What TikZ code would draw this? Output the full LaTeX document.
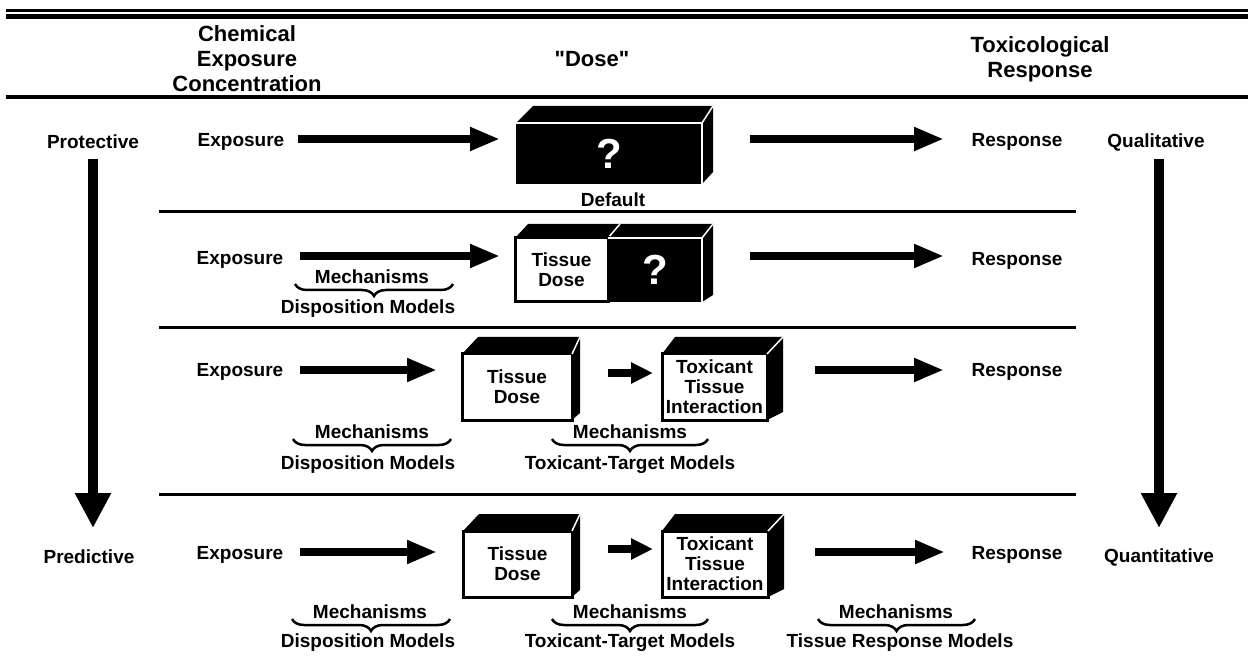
\documentclass[tikz,border=0pt]{standalone}
\usepackage{fontspec}
\setmainfont{Liberation Sans}[Ligatures=TeXOff]
\usetikzlibrary{arrows.meta,calc,decorations.pathreplacing}

% top and side faces of a box seen from above right:
% #1 front node, #2 left depth, #3 right depth, #4 rise of the top, #5 rise of the back bottom
\newcommand\boxfaces[5]{%
  \fill[black] (#1.north west) -- ++(#2,-#4) -- ($(#1.north east)+(#3,-#4)$) -- (#1.north east) -- cycle;
  \fill[black] (#1.north east) -- ++(#3,-#4) -- ($(#1.south east)+(#3,-#5)$) -- (#1.south east) -- cycle;
  \draw[white, line width=1.5] (#1.north east) -- ++(#3,-#4);
}

\begin{document}
\begin{tikzpicture}[x=1pt,y=-1pt,
  lbl/.style={font=\fontsize{19}{20}\selectfont\bfseries, inner sep=0, align=center},
  hdr/.style={font=\fontsize{22}{25}\selectfont\bfseries, inner sep=0, align=center},
  qmark/.style={font=\fontsize{42}{42}\selectfont\bfseries, text=white, inner sep=0},
  rule/.style={line width=3},
  bigarrow/.style={line width=8, -{Triangle[length=30pt,width=22pt]}},
  smallarrow/.style={line width=8, -{Triangle[length=22pt,width=20pt]}},
  trend/.style={line width=10, -{Triangle[length=35pt,width=34pt]}},
  frontW/.style={draw=black, line width=3, fill=white, outer sep=0, inner sep=0,
    minimum height=66, align=center, font=\fontsize{19}{20}\selectfont\bfseries},
  frontB/.style={fill=black, outer sep=0, inner sep=0},
  mbrace/.style={decorate, decoration={brace, mirror, amplitude=12}, line width=2.5},
]
\useasboundingbox (0,0) rectangle (1248,660);

% ---- header ----
\draw[line width=3] (6,11) -- (1248,11);
\draw[line width=5] (6,17) -- (1248,17);
\draw[line width=4] (6,97) -- (1248,97);
\node[hdr] (hChem) at (247,59) {Chemical\\Exposure\\Concentration};
\node[hdr] (hDose) at (592,59) {"Dose"};
\node[hdr] (hTox)  at (1040,59) {Toxicological\\Response};

% ---- row separators ----
\draw[rule] (159,212) -- (1076,212);
\draw[rule] (159,328) -- (1076,328);
\draw[rule] (159,494) -- (1076,494);

% ---- trend arrows at the sides ----
\node[lbl] (prot) at (93,142) {Protective};
\node[lbl] (pred) at (89,557) {Predictive};
\node[lbl] (qual) at (1156,142) {Qualitative};
\node[lbl] (quan) at (1159,557) {Quantitative};
\coordinate (pTop) at (93,159);   \coordinate (pTip) at (93,528);
\coordinate (qTop) at (1159,159); \coordinate (qTip) at (1159,528);
\draw[trend] (pTop) -- (pTip);
\draw[trend] (qTop) -- (qTip);

% ---- row 1: default ----
\node[lbl] (exp1) at (241,142) {Exposure};
\node[frontB, minimum width=186, minimum height=61] (box1) at (609,153.5) {};
\boxfaces{box1}{17}{11}{17}{12}
\draw[white, line width=1.5] (box1.north west) -- (box1.north east) -- (box1.south east);
\node[qmark] (q1) at (box1.center) {?};
\node[lbl] (def) at (613,200) {Default};
\node[lbl] (res1) at (1017,142) {Response};
\coordinate (a1s) at (298,139); \coordinate (a1e) at (500,139);
\coordinate (b1s) at (750,139); \coordinate (b1e) at (944,139);
\draw[bigarrow] (a1s) -- (a1e);
\draw[bigarrow] (b1s) -- (b1e);

% ---- row 2: tissue dose known ----
\node[lbl] (exp2) at (240,260) {Exposure};
\node[frontB, minimum width=94, minimum height=64] (box2b) at (655,270) {};
\boxfaces{box2b}{12}{11}{14}{7}
\fill[black] (515,238) -- (528,224) -- (620,224) -- (608,238) -- cycle;
\draw[white, line width=1.5] (608,238) -- (620,224);
\node[frontW, minimum width=93, minimum height=64] (box2w) at (561.5,270) {Tissue\\Dose};
\draw[white, line width=1.5] (box2b.north west) -- (box2b.north east) -- (box2b.south east);
\node[qmark] (q2) at (box2b.center) {?};
\node[lbl] (mech2) at (372,277) {Mechanisms};
\draw[mbrace] (295,284) -- (453,284);
\node[lbl] (disp2) at (368,309) {Disposition Models};
\node[lbl] (res2) at (1017,261) {Response};
\coordinate (a2s) at (300,256); \coordinate (a2e) at (500,256);
\coordinate (b2s) at (750,256); \coordinate (b2e) at (944,256);
\draw[bigarrow] (a2s) -- (a2e);
\draw[bigarrow] (b2s) -- (b2e);

% ---- row 3: tissue dose and toxicant interaction ----
\node[lbl] (exp3) at (240,372) {Exposure};
\node[frontW, minimum width=110] (td3) at (517,387) {Tissue\\Dose};
\boxfaces{td3}{16}{8}{17}{7}
\node[frontW, minimum width=105] (ti3) at (714.5,387) {Toxicant\\Tissue\\Interaction};
\boxfaces{ti3}{13}{16}{17}{8}
\node[lbl] (res3) at (1017,372) {Response};
\coordinate (a3s) at (300,370); \coordinate (a3e) at (437,370);
\coordinate (b3s) at (815,370); \coordinate (b3e) at (944,370);
\draw[bigarrow] (a3s) -- (a3e);
\draw[smallarrow] (td3.east) ++(36,-14) coordinate (c3s) -- ++(45,0) coordinate (c3e);
\draw[bigarrow] (b3s) -- (b3e);
\node[lbl] (mech3a) at (372,432) {Mechanisms};
\draw[mbrace] (293,439) -- (451,439);
\node[lbl] (disp3) at (368,465) {Disposition Models};
\node[lbl] (mech3b) at (630,432) {Mechanisms};
\draw[mbrace] (552,439) -- (708,439);
\node[lbl] (tt3) at (630,465) {Toxicant-Target Models};

% ---- row 4: full mechanistic chain ----
\node[lbl] (exp4) at (240,555) {Exposure};
\node[frontW, minimum width=109] (td4) at (517.5,564) {Tissue\\Dose};
\boxfaces{td4}{16}{8}{17}{7}
\node[frontW, minimum width=106] (ti4) at (715,564) {Toxicant\\Tissue\\Interaction};
\boxfaces{ti4}{13}{16}{17}{8}
\node[lbl] (res4) at (1017,555) {Response};
\coordinate (a4s) at (300,552); \coordinate (a4e) at (437,552);
\coordinate (b4s) at (815,552); \coordinate (b4e) at (945,552);
\draw[bigarrow] (a4s) -- (a4e);
\draw[smallarrow] (td4.east) ++(36,-15) coordinate (c4s) -- ++(45,0) coordinate (c4e);
\draw[bigarrow] (b4s) -- (b4e);
\node[lbl] (mech4a) at (370,612) {Mechanisms};
\draw[mbrace] (292,619) -- (450,619);
\node[lbl] (disp4) at (368,643) {Disposition Models};
\node[lbl] (mech4b) at (630,612) {Mechanisms};
\draw[mbrace] (552,619) -- (708,619);
\node[lbl] (tt4) at (630,643) {Toxicant-Target Models};
\node[lbl] (mech4c) at (896,612) {Mechanisms};
\draw[mbrace] (818,619) -- (975,619);
\node[lbl] (trm4) at (900,643) {Tissue Response Models};
\end{tikzpicture}
\end{document}
